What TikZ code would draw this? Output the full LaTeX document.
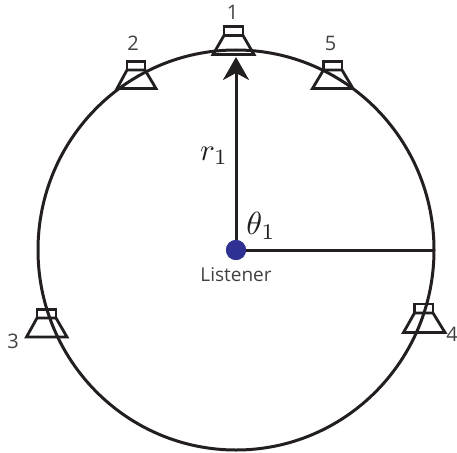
\documentclass[tikz,border=0pt]{standalone}
\usepackage{graphicx}
\usepackage{fontspec}
\newfontfamily\labelfont{Open Sans}
\usetikzlibrary{arrows.meta}
\definecolor{ink}{HTML}{231F20}
\definecolor{dotblue}{HTML}{2E3192}
\definecolor{labelgray}{HTML}{414042}
\tikzset{
  x=1pt,y=-1pt,
  ring/.style={draw=ink,line width=3pt},
  spk/.style={draw=ink,line width=2.8pt,miter limit=10},
  numlabel/.style={font=\labelfont\fontsize{20}{20}\selectfont,text=labelgray,inner sep=0pt},
  mathlabel/.style={text=ink,inner sep=0pt},
  ray/.style={draw=ink,line width=3pt},
}
\newcommand{\speaker}[7]{% boxL boxR boxT boxB baseL baseR baseY
  \draw[spk] (#1,#3) rectangle (#2,#4);
  \draw[spk] (#1,#4) -- (#5,#7) -- (#6,#7) -- (#2,#4) -- cycle;
}
\begin{document}
\begin{tikzpicture}
\useasboundingbox (0,0) rectangle (457,452);
\coordinate (c) at (236,250);
\coordinate (rim) at (434,250);
\coordinate (top) at (236,57);
\draw[ring] (c) ellipse [x radius=198,y radius=200];
\speaker{224}{243}{26.5}{35.5}{213}{254}{54.5}
\speaker{127}{145}{61.5}{70}{117}{156}{88.5}
\speaker{323.5}{342}{61.5}{70}{312.5}{353}{88.5}
\speaker{37}{56}{309.5}{318}{26.5}{67}{337}
\speaker{414.5}{433}{304}{313}{403.5}{445}{332.5}
\node[circle,fill=dotblue,minimum size=20pt,inner sep=0pt] (listener) at (c) {};
\draw[ray] (listener.center) -- (rim);
\draw[ray,-{Stealth[length=23pt,width=26pt,inset=7pt]}] (listener.center) -- (top);
\node[circle,fill=dotblue,minimum size=20pt,inner sep=0pt] at (c) {};
\node[font=\labelfont\fontsize{19}{19}\selectfont,text=labelgray,inner sep=0pt] (lbl) at (236,275) {Listener};
\node[mathlabel] (r) at (214,156) {\scalebox{3.1}{$r_1$}};
\node[mathlabel] (t) at (261,226) {\scalebox{3.2}{$\theta_1$}};
\node[numlabel] (n1) at (232.5,12) {1};
\node[numlabel] (n2) at (133,43) {2};
\node[numlabel] (n5) at (330.5,43) {5};
\node[numlabel] (n3) at (13,341) {3};
\node[numlabel] (n4) at (452,334) {4};
\end{tikzpicture}
\end{document}
